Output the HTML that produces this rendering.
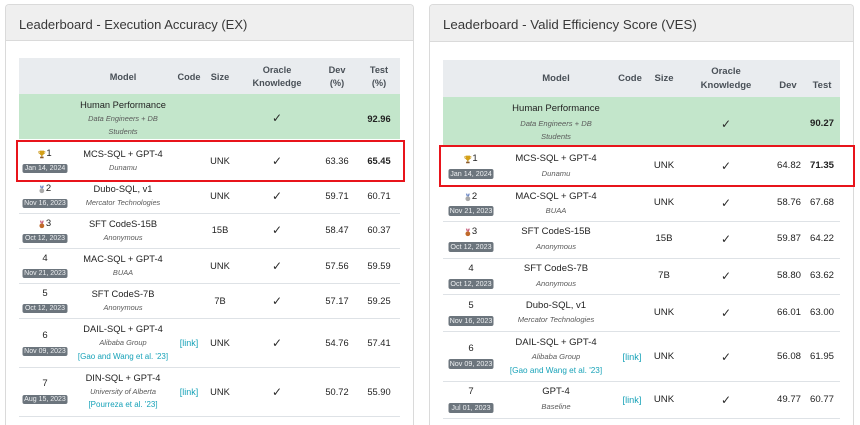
<!DOCTYPE html>
<html><head><meta charset="utf-8">
<style>
*{box-sizing:border-box;margin:0;padding:0}
html,body{width:860px;height:425px;overflow:hidden;background:#fff}
body{position:relative;font-family:"Liberation Sans",Arial,sans-serif;color:#212529}
.a{position:absolute}
.t{position:absolute;transform:translateX(-50%);white-space:nowrap;line-height:12px;height:12px}
.h{font-weight:bold;font-size:9.2px;color:#495057}
.nm{font-size:9.3px;color:#222}
.sb{font-size:7.4px;font-style:italic;color:#5a5a5a}
.lk{font-size:8px;color:#17a2b8}
.v{font-size:9.3px;color:#222}
.b{font-weight:bold}
.ck{font-family:"DejaVu Sans",sans-serif;font-size:12px;color:#2a2a2a}
.rk{font-size:9.5px;color:#222;display:flex;align-items:center}
.rk svg{margin-right:1px}
.bd{position:absolute;transform:translateX(-50%);width:45px;height:9px;line-height:9px;background:#6c757d;color:#eef0f2;font-size:7px;text-align:center;border-radius:2px;white-space:nowrap}
.R .h{font-size:9.5px}
.R .nm{font-size:9.5px}
.R .sb{font-size:7.6px}
.R .lk{font-size:8.2px}
.R .v{font-size:9.6px}
.R .bd{height:10px;line-height:10px;font-size:7.2px}
.card{border:1px solid #dadada;border-bottom:none;border-radius:4px 4px 0 0}
.hd{background:#efefef;border-bottom:1px solid #dadada;border-radius:3px 3px 0 0}
.ln{height:1px;background:#dee2e6}
.red{border:2.5px solid #e8141b}
.ttl{position:absolute;white-space:nowrap;color:#383838}
</style></head><body>

<!-- LEFT CARD -->
<div class="a card" style="left:5px;top:4px;width:409px;height:421px"></div>
<div class="a hd" style="left:6px;top:5px;width:407px;height:36px"></div>
<div class="ttl" style="left:19px;top:17.5px;font-size:13px;line-height:13px">Leaderboard - Execution Accuracy (EX)</div>

<div class="a" style="left:19px;top:58px;width:381px;height:36px;background:#e9ecef"></div>
<div class="a" style="left:19px;top:94px;width:381px;height:45px;background:#c3e6cb"></div>
<div class="a ln" style="left:19px;top:181px;width:381px"></div>
<div class="a ln" style="left:19px;top:213px;width:381px"></div>
<div class="a ln" style="left:19px;top:248px;width:381px"></div>
<div class="a ln" style="left:19px;top:283px;width:381px"></div>
<div class="a ln" style="left:19px;top:318px;width:381px"></div>
<div class="a ln" style="left:19px;top:367px;width:381px"></div>
<div class="a ln" style="left:19px;top:416px;width:381px"></div>

<div class="L">
<div class="t h" style="left:123px;top:71px">Model</div>
<div class="t h" style="left:189px;top:71px">Code</div>
<div class="t h" style="left:220px;top:71px">Size</div>
<div class="t h" style="left:277px;top:64px">Oracle</div>
<div class="t h" style="left:277px;top:77px">Knowledge</div>
<div class="t h" style="left:337px;top:64px">Dev</div>
<div class="t h" style="left:337px;top:77px">(%)</div>
<div class="t h" style="left:379px;top:64px">Test</div>
<div class="t h" style="left:379px;top:77px">(%)</div>

<div class="t nm" style="left:123px;top:99px">Human Performance</div>
<div class="t sb" style="left:123px;top:113px">Data Engineers + DB</div>
<div class="t sb" style="left:123px;top:126px">Students</div>
<div class="t ck" style="left:277px;top:112px">✓</div>
<div class="t v b" style="left:379px;top:113px">92.96</div>

<!-- R1 -->
<div class="t rk" style="left:45px;top:148px"><svg width="7" height="9" viewBox="0 0 8 9"><path d="M1.5 0h5v3a2.5 2.5 0 0 1-5 0z" fill="#d4a017"/><path d="M1.6 1H0.4v.9a1.6 1.6 0 0 0 1.6 1.5M6.4 1h1.2v.9a1.6 1.6 0 0 1-1.6 1.5" fill="none" stroke="#c9971a" stroke-width=".8"/><rect x="3.4" y="5" width="1.2" height="2" fill="#b8860b"/><rect x="2" y="7" width="4" height="1.8" fill="#8b5a2b"/></svg>1</div>
<div class="bd" style="left:45px;top:163.5px">Jan 14, 2024</div>
<div class="t nm" style="left:123px;top:148px">MCS-SQL + GPT-4</div>
<div class="t sb" style="left:123px;top:162px">Dunamu</div>
<div class="t v" style="left:220px;top:155px">UNK</div>
<div class="t ck" style="left:277px;top:155px">✓</div>
<div class="t v" style="left:337px;top:155px">63.36</div>
<div class="t v b" style="left:379px;top:155px">65.45</div>

<!-- R2 -->
<div class="t rk" style="left:45px;top:183px"><svg width="6" height="9" viewBox="0 0 7 9"><path d="M1.2 0h1.6l1 3.2h-1.6zM5.8 0h-1.6l-1 3.2h1.6z" fill="#6b86c4"/><circle cx="3.5" cy="6" r="2.8" fill="#a9a9a9"/></svg>2</div>
<div class="bd" style="left:45px;top:198.5px">Nov 16, 2023</div>
<div class="t nm" style="left:123px;top:183px">Dubo-SQL, v1</div>
<div class="t sb" style="left:123px;top:197px">Mercator Technologies</div>
<div class="t v" style="left:220px;top:190px">UNK</div>
<div class="t ck" style="left:277px;top:190px">✓</div>
<div class="t v" style="left:337px;top:190px">59.71</div>
<div class="t v" style="left:379px;top:190px">60.71</div>

<!-- R3 -->
<div class="t rk" style="left:45px;top:218px"><svg width="6" height="9" viewBox="0 0 7 9"><path d="M1.2 0h1.6l1 3.2h-1.6zM5.8 0h-1.6l-1 3.2h1.6z" fill="#c75b7a"/><circle cx="3.5" cy="6" r="2.8" fill="#c0692a"/></svg>3</div>
<div class="bd" style="left:45px;top:233.5px">Oct 12, 2023</div>
<div class="t nm" style="left:123px;top:218px">SFT CodeS-15B</div>
<div class="t sb" style="left:123px;top:232px">Anonymous</div>
<div class="t v" style="left:220px;top:224px">15B</div>
<div class="t ck" style="left:277px;top:224px">✓</div>
<div class="t v" style="left:337px;top:224px">58.47</div>
<div class="t v" style="left:379px;top:224px">60.37</div>

<!-- R4 -->
<div class="t rk" style="left:45px;top:253px">4</div>
<div class="bd" style="left:45px;top:268.5px">Nov 21, 2023</div>
<div class="t nm" style="left:123px;top:253px">MAC-SQL + GPT-4</div>
<div class="t sb" style="left:123px;top:267px">BUAA</div>
<div class="t v" style="left:220px;top:260px">UNK</div>
<div class="t ck" style="left:277px;top:260px">✓</div>
<div class="t v" style="left:337px;top:260px">57.56</div>
<div class="t v" style="left:379px;top:260px">59.59</div>

<!-- R5 -->
<div class="t rk" style="left:45px;top:288px">5</div>
<div class="bd" style="left:45px;top:303.5px">Oct 12, 2023</div>
<div class="t nm" style="left:123px;top:288px">SFT CodeS-7B</div>
<div class="t sb" style="left:123px;top:302px">Anonymous</div>
<div class="t v" style="left:220px;top:295px">7B</div>
<div class="t ck" style="left:277px;top:295px">✓</div>
<div class="t v" style="left:337px;top:295px">57.17</div>
<div class="t v" style="left:379px;top:295px">59.25</div>

<!-- R6 -->
<div class="t rk" style="left:45px;top:330px">6</div>
<div class="bd" style="left:45px;top:346.5px">Nov 09, 2023</div>
<div class="t nm" style="left:123px;top:323px">DAIL-SQL + GPT-4</div>
<div class="t sb" style="left:123px;top:337px">Alibaba Group</div>
<div class="t lk" style="left:123px;top:351px">[Gao and Wang et al. '23]</div>
<div class="t lk" style="left:189px;top:337px;font-size:9px">[link]</div>
<div class="t v" style="left:220px;top:337px">UNK</div>
<div class="t ck" style="left:277px;top:337px">✓</div>
<div class="t v" style="left:337px;top:337px">54.76</div>
<div class="t v" style="left:379px;top:337px">57.41</div>

<!-- R7 -->
<div class="t rk" style="left:45px;top:378px">7</div>
<div class="bd" style="left:45px;top:394.5px">Aug 15, 2023</div>
<div class="t nm" style="left:123px;top:372px">DIN-SQL + GPT-4</div>
<div class="t sb" style="left:123px;top:386px">University of Alberta</div>
<div class="t lk" style="left:123px;top:399px">[Pourreza et al. '23]</div>
<div class="t lk" style="left:189px;top:386px;font-size:9px">[link]</div>
<div class="t v" style="left:220px;top:386px">UNK</div>
<div class="t ck" style="left:277px;top:386px">✓</div>
<div class="t v" style="left:337px;top:386px">50.72</div>
<div class="t v" style="left:379px;top:386px">55.90</div>
</div>

<div class="a red" style="left:16px;top:140px;width:389px;height:42px"></div>

<!-- RIGHT CARD -->
<div class="a card" style="left:429px;top:4px;width:425px;height:421px"></div>
<div class="a hd" style="left:430px;top:5px;width:423px;height:37px"></div>
<div class="ttl" style="left:443px;top:17.9px;font-size:13.3px;line-height:13.3px">Leaderboard - Valid Efficiency Score (VES)</div>

<div class="a" style="left:443px;top:60px;width:397px;height:37px;background:#e9ecef"></div>
<div class="a" style="left:443px;top:97px;width:397px;height:48px;background:#c3e6cb"></div>
<div class="a ln" style="left:443px;top:186px;width:397px"></div>
<div class="a ln" style="left:443px;top:221px;width:397px"></div>
<div class="a ln" style="left:443px;top:258px;width:397px"></div>
<div class="a ln" style="left:443px;top:294px;width:397px"></div>
<div class="a ln" style="left:443px;top:331px;width:397px"></div>
<div class="a ln" style="left:443px;top:381px;width:397px"></div>
<div class="a ln" style="left:443px;top:418px;width:397px"></div>

<div class="R">
<div class="t h" style="left:556px;top:73px">Model</div>
<div class="t h" style="left:630px;top:73px">Code</div>
<div class="t h" style="left:664px;top:73px">Size</div>
<div class="t h" style="left:726px;top:66px">Oracle</div>
<div class="t h" style="left:726px;top:80px">Knowledge</div>
<div class="t h" style="left:788px;top:80px">Dev</div>
<div class="t h" style="left:822px;top:80px">Test</div>

<div class="t nm" style="left:556px;top:103px">Human Performance</div>
<div class="t sb" style="left:556px;top:118px">Data Engineers + DB</div>
<div class="t sb" style="left:556px;top:131px">Students</div>
<div class="t ck" style="left:726px;top:118px">✓</div>
<div class="t v b" style="left:822px;top:118px">90.27</div>

<!-- R1 -->
<div class="t rk" style="left:471px;top:153px"><svg width="7" height="9" viewBox="0 0 8 9"><path d="M1.5 0h5v3a2.5 2.5 0 0 1-5 0z" fill="#d4a017"/><path d="M1.6 1H0.4v.9a1.6 1.6 0 0 0 1.6 1.5M6.4 1h1.2v.9a1.6 1.6 0 0 1-1.6 1.5" fill="none" stroke="#c9971a" stroke-width=".8"/><rect x="3.4" y="5" width="1.2" height="2" fill="#b8860b"/><rect x="2" y="7" width="4" height="1.8" fill="#8b5a2b"/></svg>1</div>
<div class="bd" style="left:471px;top:169px">Jan 14, 2024</div>
<div class="t nm" style="left:556px;top:153px">MCS-SQL + GPT-4</div>
<div class="t sb" style="left:556px;top:168px">Dunamu</div>
<div class="t v" style="left:664px;top:160px">UNK</div>
<div class="t ck" style="left:726px;top:160px">✓</div>
<div class="t v" style="left:789px;top:160px">64.82</div>
<div class="t v b" style="left:822px;top:160px">71.35</div>

<!-- R2 -->
<div class="t rk" style="left:471px;top:191px"><svg width="6" height="9" viewBox="0 0 7 9"><path d="M1.2 0h1.6l1 3.2h-1.6zM5.8 0h-1.6l-1 3.2h1.6z" fill="#6b86c4"/><circle cx="3.5" cy="6" r="2.8" fill="#a9a9a9"/></svg>2</div>
<div class="bd" style="left:471px;top:206px">Nov 21, 2023</div>
<div class="t nm" style="left:556px;top:191px">MAC-SQL + GPT-4</div>
<div class="t sb" style="left:556px;top:205px">BUAA</div>
<div class="t v" style="left:664px;top:197px">UNK</div>
<div class="t ck" style="left:726px;top:197px">✓</div>
<div class="t v" style="left:789px;top:197px">58.76</div>
<div class="t v" style="left:822px;top:197px">67.68</div>

<!-- R3 -->
<div class="t rk" style="left:471px;top:226px"><svg width="6" height="9" viewBox="0 0 7 9"><path d="M1.2 0h1.6l1 3.2h-1.6zM5.8 0h-1.6l-1 3.2h1.6z" fill="#c75b7a"/><circle cx="3.5" cy="6" r="2.8" fill="#c0692a"/></svg>3</div>
<div class="bd" style="left:471px;top:242px">Oct 12, 2023</div>
<div class="t nm" style="left:556px;top:226px">SFT CodeS-15B</div>
<div class="t sb" style="left:556px;top:241px">Anonymous</div>
<div class="t v" style="left:664px;top:233px">15B</div>
<div class="t ck" style="left:726px;top:233px">✓</div>
<div class="t v" style="left:789px;top:233px">59.87</div>
<div class="t v" style="left:822px;top:233px">64.22</div>

<!-- R4 -->
<div class="t rk" style="left:471px;top:263px">4</div>
<div class="bd" style="left:471px;top:279px">Oct 12, 2023</div>
<div class="t nm" style="left:556px;top:263px">SFT CodeS-7B</div>
<div class="t sb" style="left:556px;top:278px">Anonymous</div>
<div class="t v" style="left:664px;top:270px">7B</div>
<div class="t ck" style="left:726px;top:270px">✓</div>
<div class="t v" style="left:789px;top:270px">58.80</div>
<div class="t v" style="left:822px;top:270px">63.62</div>

<!-- R5 -->
<div class="t rk" style="left:471px;top:300px">5</div>
<div class="bd" style="left:471px;top:316px">Nov 16, 2023</div>
<div class="t nm" style="left:556px;top:300px">Dubo-SQL, v1</div>
<div class="t sb" style="left:556px;top:314px">Mercator Technologies</div>
<div class="t v" style="left:664px;top:307px">UNK</div>
<div class="t ck" style="left:726px;top:307px">✓</div>
<div class="t v" style="left:789px;top:307px">66.01</div>
<div class="t v" style="left:822px;top:307px">63.00</div>

<!-- R6 -->
<div class="t rk" style="left:471px;top:343px">6</div>
<div class="bd" style="left:471px;top:359px">Nov 09, 2023</div>
<div class="t nm" style="left:556px;top:337px">DAIL-SQL + GPT-4</div>
<div class="t sb" style="left:556px;top:351px">Alibaba Group</div>
<div class="t lk" style="left:556px;top:365px">[Gao and Wang et al. '23]</div>
<div class="t lk" style="left:632px;top:351px;font-size:9.2px">[link]</div>
<div class="t v" style="left:664px;top:351px">UNK</div>
<div class="t ck" style="left:726px;top:351px">✓</div>
<div class="t v" style="left:789px;top:351px">56.08</div>
<div class="t v" style="left:822px;top:351px">61.95</div>

<!-- R7 -->
<div class="t rk" style="left:471px;top:386px">7</div>
<div class="bd" style="left:471px;top:403px">Jul 01, 2023</div>
<div class="t nm" style="left:556px;top:386px">GPT-4</div>
<div class="t sb" style="left:556px;top:401px">Baseline</div>
<div class="t lk" style="left:632px;top:394px;font-size:9.2px">[link]</div>
<div class="t v" style="left:664px;top:394px">UNK</div>
<div class="t ck" style="left:726px;top:394px">✓</div>
<div class="t v" style="left:789px;top:394px">49.77</div>
<div class="t v" style="left:822px;top:394px">60.77</div>
</div>

<div class="a red" style="left:439px;top:145px;width:416px;height:42px"></div>

</body></html>
